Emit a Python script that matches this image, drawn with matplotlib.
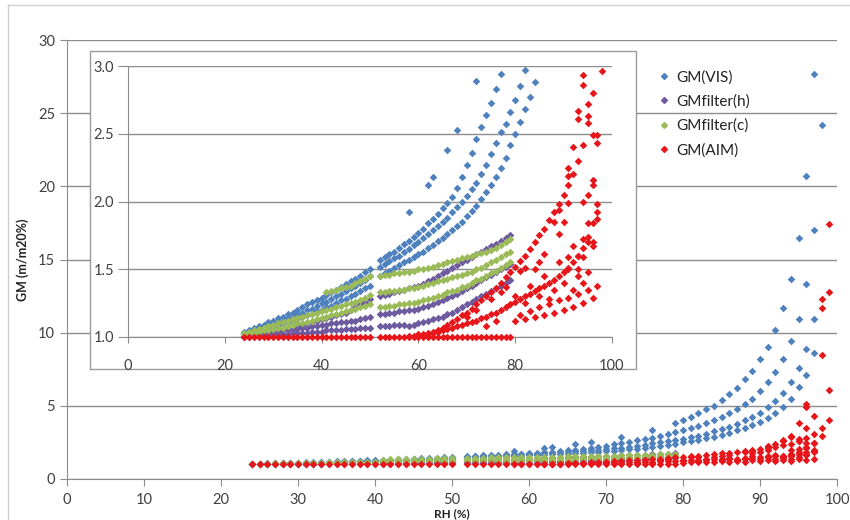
import matplotlib
matplotlib.use("Agg")
import matplotlib.pyplot as plt
from matplotlib.patches import Rectangle
from matplotlib.lines import Line2D
from matplotlib.ticker import FormatStrFormatter

plt.rcParams['font.family'] = ['Lato', 'DejaVu Sans']

# RH steps (%), no reading at 51
rh = [24, 25, 26, 27, 28, 29, 30, 31, 32, 33, 34, 35, 36, 37, 38, 39, 40, 41, 42, 43,
      44, 45, 46, 47, 48, 49, 50, 52, 53, 54, 55, 56, 57, 58, 59, 60, 61, 62, 63, 64,
      65, 66, 67, 68, 69, 70, 71, 72, 73, 74, 75, 76, 77, 78, 79, 80, 81, 82, 83, 84,
      85, 86, 87, 88, 89, 90, 91, 92, 93, 94, 95, 96, 97, 98, 99]

# GM(VIS): three runs starting at RH 24 plus a sparse upper run
vis_upper = [1.04, 1.05, 1.07, 1.08, 1.09, 1.11, 1.12, 1.14, 1.15, 1.17,
             1.18, 1.20, 1.22, 1.24, 1.26, 1.27, 1.29, 1.31, 1.33, 1.35,
             1.37, 1.39, 1.41, 1.43, 1.45, 1.48, 1.50,
             1.57, 1.59, 1.61, 1.63, 1.66, 1.69, 1.71, 1.74, 1.77, 1.80,
             1.84, 1.87, 1.91, 1.95, 1.99, 2.03, 2.10, 2.18, 2.27, 2.36,
             2.46, 2.55, 2.64, 2.73, 2.83, 2.94, 3.06, 3.19, 3.33, 3.48,
             3.64, 3.82, 4.02, 4.25, 4.50, 4.80, 5.10, 5.50, 6.00, 6.60,
             7.30, 8.20, 9.40, 10.9, 13.3, 17.0, 24.2]
vis_mid = [1.03, 1.04, 1.05, 1.06, 1.07, 1.08, 1.10, 1.11, 1.12, 1.14,
           1.15, 1.17, 1.18, 1.20, 1.21, 1.23, 1.25, 1.26, 1.28, 1.30,
           1.32, 1.34, 1.36, 1.38, 1.40, 1.42, 1.45,
           1.52, 1.54, 1.56, 1.58, 1.60, 1.63, 1.65, 1.68, 1.70, 1.73,
           1.76, 1.79, 1.82, 1.85, 1.88, 1.92, 1.96, 2.00, 2.04, 2.09,
           2.14, 2.20, 2.27, 2.35, 2.43, 2.51, 2.57, 2.66, 2.75, 2.85,
           2.97, 3.10, 3.25, 3.40, 3.58, 3.78, 4.00, 4.26, 4.50, 4.90,
           5.30, 5.90, 6.60, 7.60, 8.90, 10.9]
vis_low = [1.02, 1.03, 1.04, 1.05, 1.06, 1.07, 1.08, 1.09, 1.10, 1.11,
           1.12, 1.13, 1.15, 1.16, 1.17, 1.19, 1.20, 1.22, 1.23, 1.25,
           1.27, 1.28, 1.30, 1.32, 1.34, 1.36, 1.38,
           1.45, 1.47, 1.49, 1.51, 1.53, 1.55, 1.57, 1.59, 1.61, 1.63,
           1.66, 1.68, 1.71, 1.73, 1.76, 1.79, 1.82, 1.85, 1.89, 1.93,
           1.97, 2.02, 2.07, 2.12, 2.18, 2.25, 2.32, 2.42, 2.50, 2.59,
           2.68, 2.77, 2.88, 3.02, 3.17, 3.33, 3.50, 3.70, 3.90, 4.20,
           4.50, 4.90, 5.50, 6.30, 7.10, 8.60]
vis_out_x = [58, 62, 63, 66, 68, 72, 76, 79, 80, 81, 82, 83, 84, 85, 86, 87, 88,
             89, 90, 91, 92, 93, 94, 95, 96, 97]
vis_out_y = [1.92, 2.12, 2.18, 2.38, 2.53, 2.89, 3.35, 3.80, 4.05, 4.26, 4.50, 4.76,
             5.00, 5.40, 5.80, 6.20, 6.80, 7.40, 8.17, 9.00, 10.2, 11.7, 13.7, 16.5,
             20.7, 27.7]

# GMfilter(h)
filt_h_1 = [1.00, 1.00, 1.01, 1.01, 1.01, 1.01, 1.02, 1.02, 1.02, 1.02,
            1.03, 1.03, 1.03, 1.03, 1.04, 1.04, 1.04, 1.05, 1.05, 1.05,
            1.05, 1.06, 1.06, 1.06, 1.07, 1.07, 1.07,
            1.08, 1.08, 1.08, 1.09, 1.09, 1.09, 1.08, 1.09, 1.10, 1.11,
            1.12, 1.13, 1.14, 1.15, 1.17, 1.18, 1.20, 1.22, 1.24, 1.26,
            1.28, 1.30, 1.32, 1.34, 1.36, 1.38, 1.40, 1.42]
filt_h_2 = [1.01, 1.01, 1.02, 1.02, 1.03, 1.03, 1.04, 1.04, 1.05, 1.05,
            1.06, 1.06, 1.07, 1.07, 1.08, 1.08, 1.09, 1.09, 1.10, 1.10,
            1.11, 1.11, 1.12, 1.12, 1.13, 1.14, 1.15,
            1.17, 1.17, 1.18, 1.18, 1.19, 1.19, 1.20, 1.20, 1.21, 1.22,
            1.23, 1.24, 1.26, 1.27, 1.29, 1.30, 1.32, 1.34, 1.36, 1.38,
            1.40, 1.42, 1.44, 1.46, 1.48, 1.50, 1.52, 1.54]
filt_h_3 = [1.08, 1.09, 1.10, 1.11, 1.12, 1.13, 1.14, 1.15, 1.16, 1.17,
            1.18, 1.20, 1.22, 1.24, 1.26, 1.28,
            1.30, 1.31, 1.32, 1.33, 1.34, 1.35, 1.36, 1.37, 1.38, 1.39,
            1.41, 1.43, 1.45, 1.47, 1.49, 1.51, 1.53, 1.55, 1.57, 1.59,
            1.61, 1.63, 1.65, 1.67, 1.69, 1.71, 1.73, 1.75]

# GMfilter(c)
filt_c_1 = [1.02, 1.03, 1.03, 1.04, 1.05, 1.05, 1.06, 1.07, 1.07, 1.08,
            1.09, 1.10, 1.10, 1.11, 1.12, 1.13, 1.14, 1.15, 1.16, 1.17,
            1.18, 1.19, 1.20, 1.21, 1.22, 1.23, 1.24,
            1.22, 1.22, 1.23, 1.23, 1.24, 1.24, 1.25, 1.25, 1.26, 1.27,
            1.28, 1.29, 1.30, 1.31, 1.33, 1.34, 1.35, 1.37, 1.38, 1.40,
            1.42, 1.43, 1.45, 1.47, 1.49, 1.51, 1.53, 1.55]
filt_c_2 = [1.03, 1.04, 1.05, 1.06, 1.07, 1.08, 1.09, 1.10, 1.11, 1.12,
            1.13, 1.14, 1.15, 1.16, 1.17, 1.18, 1.19, 1.20, 1.21, 1.22,
            1.23, 1.24, 1.25, 1.26, 1.27, 1.29, 1.31,
            1.33, 1.33, 1.34, 1.34, 1.35, 1.35, 1.36, 1.36, 1.37, 1.38,
            1.39, 1.40, 1.41, 1.42, 1.43, 1.44, 1.45, 1.46, 1.47, 1.48,
            1.50, 1.51, 1.53, 1.55, 1.57, 1.59, 1.61, 1.63]
filt_c_3 = [1.33, 1.34, 1.35, 1.36, 1.37, 1.38, 1.40, 1.41, 1.43, 1.45,
            1.45, 1.46, 1.46, 1.47, 1.47, 1.48, 1.48, 1.49, 1.50, 1.50,
            1.51, 1.52, 1.53, 1.54, 1.55, 1.56, 1.57, 1.58, 1.59, 1.60,
            1.61, 1.62, 1.63, 1.64, 1.66, 1.68, 1.70, 1.72]

# GM(AIM)
aim_base = [1.00, 1.00, 1.00, 1.00, 1.00, 1.00, 1.00, 1.00, 1.00, 1.00,
            1.00, 1.00, 1.00, 1.00, 1.00, 1.00, 1.00, 1.00, 1.00, 1.00,
            1.00, 1.00, 1.00, 1.00, 1.00, 1.00, 1.00,
            1.00, 1.00, 1.00, 1.00, 1.00, 1.00, 1.00, 1.00, 1.00, 1.00,
            1.00, 1.00, 1.00, 1.00, 1.00, 1.00, 1.00, 1.00, 1.00, 1.00,
            1.00, 1.00, 1.00, 1.00, 1.00, 1.00, 1.00, 1.00]
aim_a = [1.01, 1.01, 1.02, 1.02, 1.03, 1.03, 1.04, 1.05, 1.06, 1.07,
         1.08, 1.09, 1.10, 1.11, 1.12, 1.14, 1.15, 1.17, 1.18, 1.20,
         1.22, 1.24, 1.26, 1.28, 1.30, 1.32, 1.34, 1.36, 1.38, 1.40,
         1.42, 1.45, 1.48, 1.51, 1.55, 1.60, 1.66, 1.74, 1.84, 1.98]
aim_b = [1.02, 1.04, 1.05, 1.07, 1.09, 1.11, 1.13, 1.16, 1.18, 1.21,
         1.24, 1.27, 1.30, 1.33, 1.36, 1.40, 1.44, 1.48, 1.52, 1.56,
         1.60, 1.65, 1.70, 1.75, 1.80, 1.86, 1.92, 1.98, 2.05, 2.12,
         2.20, 2.30, 2.42, 2.58, 2.80, 3.10, 3.50, 4.00]
aim_c = [1.12, 1.16, 1.13, 1.19, 1.15, 1.22, 1.16, 1.24, 1.18, 1.27,
         1.20, 1.29, 1.22, 1.32, 1.25, 1.35, 1.29, 1.38]
aim_extra_x = [98, 94, 94, 95, 93, 95, 93, 96, 97, 97, 92, 91, 91, 96, 96, 95, 91, 94,
               89, 97, 97, 88, 90, 95, 89, 94, 95, 96, 96, 92, 86, 91, 93, 94, 85, 84,
               82, 81, 91, 93, 95, 99, 99, 98, 98, 98, 99, 96, 96, 97, 95, 96,
               70, 72, 74, 75, 76, 77, 78, 80, 82, 83, 85, 86, 87, 88, 89, 90, 92, 93, 94]
aim_extra_y = [2.96, 2.93, 2.86, 2.72, 2.67, 2.63, 2.61, 2.49, 2.49, 2.43, 2.40, 2.25,
               2.19, 2.16, 2.12, 2.05, 1.99, 2.00, 1.94, 1.92, 1.87, 1.85, 1.85, 1.84,
               1.76, 1.72, 1.70, 1.70, 1.67, 1.67, 1.61, 1.59, 1.60, 1.59, 1.55, 1.50,
               1.51, 1.49, 1.50, 1.50, 1.48, 17.4, 12.8, 12.3, 11.7, 8.5, 6.1, 5.1,
               4.9, 4.3, 3.8, 3.5,
               1.15, 1.20, 1.08, 1.28, 1.12, 1.33, 1.37, 1.30, 1.25, 1.38, 1.30, 1.45,
               1.28, 1.35, 1.55, 1.40, 1.35, 1.45, 1.40]

C_VIS, C_H, C_C, C_AIM = '#4F81BD', '#6E5A9E', '#9BBB59', '#E8161B'


def run(start, ys):
    i = rh.index(start)
    return rh[i:i + len(ys)], ys


series = [
    ("GM(VIS)", C_VIS, [run(24, vis_upper), run(24, vis_mid), run(24, vis_low),
                        (vis_out_x, vis_out_y)]),
    ("GMfilter(h)", C_H, [run(24, filt_h_1), run(24, filt_h_2), run(35, filt_h_3)]),
    ("GMfilter(c)", C_C, [run(24, filt_c_1), run(24, filt_c_2), run(41, filt_c_3)]),
    ("GM(AIM)", C_AIM, [run(24, aim_base), run(58, aim_a), run(62, aim_b),
                        run(80, aim_c), (aim_extra_x, aim_extra_y)]),
]

W, H = 850, 520
GRID = '#8c8c8c'
TXT = '#404040'


def box(l, t, r, b):
    return [l / W, 1 - b / H, (r - l) / W, (b - t) / H]


fig = plt.figure(figsize=(W / 100, H / 100), dpi=100)

# outer chart border (top and left only visible)
fig.add_artist(Line2D([8 / W, 8 / W], [0, 1 - 5 / H], color='#d0d0d0', lw=1))
fig.add_artist(Line2D([8 / W, 1], [1 - 5 / H, 1 - 5 / H], color='#d0d0d0', lw=1))


def style(a, xt, yt, fmt=None):
    a.set_xticks(xt)
    a.set_yticks(yt)
    a.grid(axis='y', color=GRID, lw=1)
    a.set_axisbelow(True)
    for s in ('top', 'right'):
        a.spines[s].set_visible(False)
    for s in ('left', 'bottom'):
        a.spines[s].set_color(GRID)
    a.tick_params(colors=GRID, labelcolor=TXT, labelsize=10.5, length=5)
    if fmt:
        a.yaxis.set_major_formatter(FormatStrFormatter(fmt))


ax = fig.add_axes(box(67, 40, 837, 479))
ax.set_xlim(0, 100)
ax.set_ylim(0, 30)
style(ax, range(0, 101, 10), range(0, 31, 5))
ax.tick_params(axis='x', pad=5)
ax.set_ylabel('GM (m/m20%)', fontweight='bold', fontsize=9, color='#222222')
ax.yaxis.set_label_coords(-(67 - 29) / 770, 0.5)

# inset frame and inset axes
fig.add_artist(Rectangle((90 / W, 1 - 369 / H), 546 / W, 318 / H,
                         transform=fig.transFigure, facecolor='white',
                         edgecolor='#9a9a9a', lw=1, zorder=1))
ax2 = fig.add_axes(box(128, 66, 612, 337), zorder=2)
ax2.patch.set_visible(False)
ax2.set_xlim(0, 100)
ax2.set_ylim(1, 3)
style(ax2, range(0, 101, 20), [1.0, 1.5, 2.0, 2.5, 3.0], '%.1f')
ax2.tick_params(axis='x', pad=12, length=4)
ax2.tick_params(axis='y', pad=3, length=7)

handles = []
for name, col, runs in series:
    for xs, ys in runs:
        ax.scatter(xs, ys, s=15, marker='D', color=col, linewidths=0, zorder=3)
        # inset only shows the 1.0 - 3.0 window, markers drawn whole at the edges
        keep = [(x, y) for x, y in zip(xs, ys) if y <= 3.0]
        ax2.scatter([p[0] for p in keep], [p[1] for p in keep], s=15, marker='D',
                    color=col, linewidths=0, zorder=3, clip_on=False)
    handles.append(Line2D([], [], marker='D', ms=3, color=col, ls='none', label=name))

fig.text(452 / W, 1 - 514 / H, 'RH (%)', ha='center', va='center',
         fontweight='bold', fontsize=8.5, color='#222222')

leg = fig.legend(handles=handles, loc='upper left', bbox_to_anchor=(650 / W, 1 - 64 / H),
                 frameon=False, fontsize=11, labelspacing=0.65, handletextpad=0.3,
                 handlelength=1.0, borderaxespad=0)
for t in leg.get_texts():
    t.set_color('#222222')
leg.set_zorder(5)

fig.savefig('out.png', dpi=100)
